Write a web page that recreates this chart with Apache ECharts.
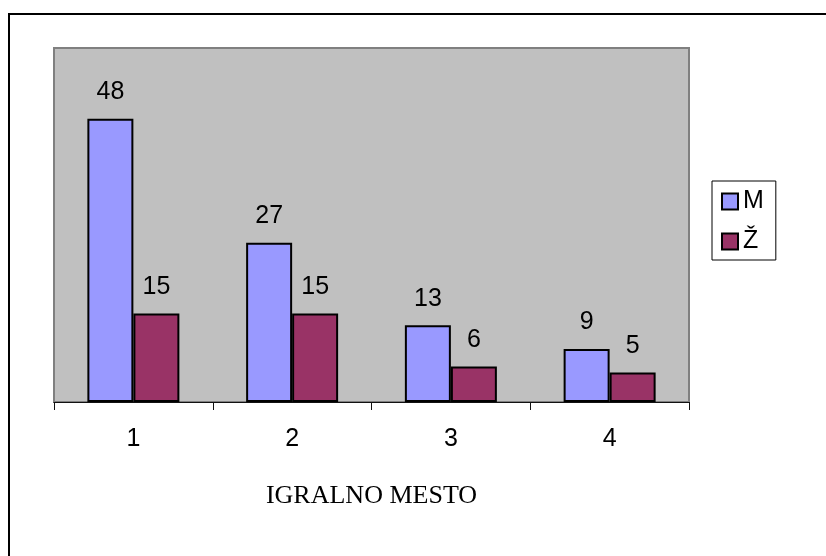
<!DOCTYPE html>
<html>
<head>
<meta charset="utf-8">
<script src="https://cdn.jsdelivr.net/npm/echarts@6/dist/echarts.min.js"></script>
<style>
  html, body { margin: 0; padding: 0; background: #fff; }
  #chart { width: 826px; height: 556px; }
</style>
</head>
<body>
<div id="chart"></div>
<script>
// Placement (1-4) and counts per group
const categories = ['1', '2', '3', '4'];
const seriesNames = ['M', 'Ž'];
const valuesM = [48, 27, 13, 9];
const valuesZ = [15, 15, 6, 5];
const axisTitle = 'IGRALNO MESTO';

const sans = '"Liberation Sans", Arial, sans-serif';
const serif = '"Liberation Serif", "Times New Roman", serif';

const chart = echarts.init(document.getElementById('chart'), null, { renderer: 'canvas' });

const labelStyle = {
  show: true,
  position: 'top',
  distance: 14,
  fontFamily: sans,
  fontSize: 25,
  color: '#000'
};

chart.setOption({
  backgroundColor: '#fff',
  animation: false,
  graphic: [
    {
      type: 'rect',
      shape: { x: 9, y: 14, width: 840, height: 580 },
      style: { fill: 'none', stroke: '#000', lineWidth: 2 },
      silent: true,
      z: 0
    }
  ],
  grid: {
    left: 54,
    right: 137,
    top: 48,
    bottom: 154,
    show: true,
    backgroundColor: '#C0C0C0',
    borderColor: '#808080',
    borderWidth: 2
  },
  legend: {
    orient: 'vertical',
    left: 712,
    top: 181,
    padding: [8, 12, 6, 9],
    itemWidth: 16,
    itemHeight: 16,
    itemGap: 15,
    itemStyle: { borderColor: '#000', borderWidth: 2 },
    backgroundColor: '#fff',
    borderColor: '#000',
    borderWidth: 1,
    textStyle: { fontFamily: sans, fontSize: 25, color: '#000' },
    data: [
      { name: seriesNames[0], icon: 'rect' },
      { name: seriesNames[1], icon: 'rect' }
    ]
  },
  xAxis: {
    type: 'category',
    data: categories,
    boundaryGap: true,
    axisLine: { show: true, lineStyle: { color: '#111', width: 1 } },
    axisTick: { show: true, length: 8, lineStyle: { color: '#111', width: 1 } },
    axisLabel: { margin: 25, fontFamily: sans, fontSize: 25, color: '#000' },
    name: axisTitle,
    nameLocation: 'middle',
    nameGap: 81,
    nameTextStyle: { fontFamily: serif, fontSize: 26, color: '#000' }
  },
  yAxis: {
    type: 'value',
    min: 0,
    max: 60,
    show: false,
    splitLine: { show: false }
  },
  series: [
    {
      name: seriesNames[0],
      type: 'bar',
      data: valuesM,
      barWidth: 46,
      barGap: '0%',
      itemStyle: { color: '#9999FF', borderColor: '#000', borderWidth: 2 },
      label: labelStyle
    },
    {
      name: seriesNames[1],
      type: 'bar',
      data: valuesZ,
      barWidth: 46,
      barGap: '0%',
      itemStyle: { color: '#993366', borderColor: '#000', borderWidth: 2 },
      label: labelStyle
    }
  ]
});
</script>
</body>
</html>
